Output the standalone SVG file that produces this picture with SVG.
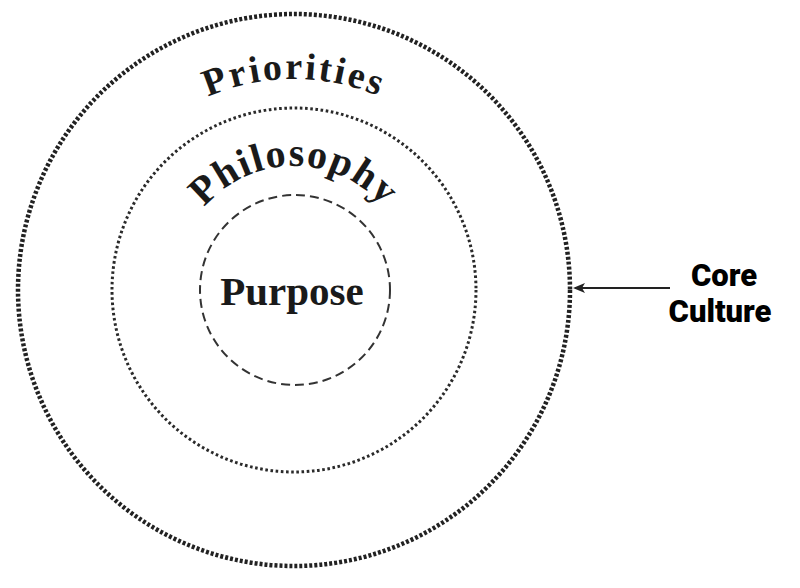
<svg xmlns="http://www.w3.org/2000/svg" width="800" height="588" viewBox="0 0 800 588">
<style>
.serif{font-family:"Times New Roman","Liberation Serif",Tinos,Times,serif;font-weight:700;fill:#1a1a1a}
.sans{font-family:Roboto,"Liberation Sans",Arial,sans-serif;font-weight:900;fill:#000;font-size:31px}
</style>
<defs>
<path id="arcOuter" d="M 79 294 A 215 215 0 0 1 509 294"/>
<path id="arcMid" d="M 176 284 A 118 118 0 0 1 412 284"/>
<marker id="arrow" markerWidth="12" markerHeight="10" refX="10" refY="5" orient="auto" markerUnits="userSpaceOnUse">
<path d="M0 0 L12 5 L0 10 L3 5 Z" fill="#222"/>
</marker>
</defs>
<rect width="800" height="588" fill="#fff"/>
<g id="outer">
<circle cx="294" cy="290" r="276" fill="none" stroke="#222" stroke-width="4.5" stroke-dasharray="3 2"/>
<text class="serif" font-size="38" letter-spacing="2.5"><textPath href="#arcOuter" startOffset="50%" text-anchor="middle">Priorities</textPath></text>
</g>
<g id="middle">
<circle cx="294" cy="290" r="182" fill="none" stroke="#2a2a2a" stroke-width="3" stroke-dasharray="2.6 2.6"/>
<text class="serif" font-size="40" letter-spacing="1.5"><textPath href="#arcMid" startOffset="50%" text-anchor="middle">Philosophy</textPath></text>
</g>
<g id="inner">
<circle cx="295" cy="290" r="95" fill="none" stroke="#333" stroke-width="2" stroke-dasharray="9 5"/>
<text class="serif" font-size="41" x="292" y="305" text-anchor="middle">Purpose</text>
</g>
<g id="connectors">
<line x1="670" y1="288" x2="575" y2="288" stroke="#222" stroke-width="1.8" marker-end="url(#arrow)"/>
</g>
<g id="label">
<text class="sans" x="724" y="286" text-anchor="middle">Core</text>
<text class="sans" x="720" y="322" text-anchor="middle">Culture</text>
</g>
</svg>
